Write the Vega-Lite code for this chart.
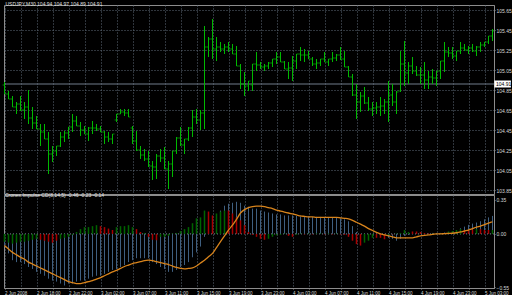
{
"$schema": "https://vega.github.io/schema/vega-lite/v6.json",
"background": "black",
"padding": {"left": 1, "top": 1, "right": 0, "bottom": 0},
"spacing": 1,
"bounds": "flush",
"config": {
 "view": {"stroke": "#8c8c8c", "strokeWidth": 1},
 "font": "Liberation Sans",
 "axis": {"labelColor": "#d8d8d8", "labelFont": "Liberation Sans", "labelFontSize": 5, "tickColor": "#8c8c8c", "domainColor": "#8c8c8c", "gridColor": "#5e6b78", "gridDash": [1, 2], "gridWidth": 1, "title": null, "tickSize": 1, "labelOverlap": false, "tickCount": 200}
},
"datasets": {"d": [
{"i":0,"o":104.90,"h":104.93,"l":104.81,"c":104.81,"b":-0.13,"m":-0.08,"k":"g","s":-0.12},
{"i":1,"o":104.81,"h":104.84,"l":104.76,"c":104.76,"b":-0.20,"m":-0.09,"k":"g","s":-0.155},
{"i":2,"o":104.76,"h":104.79,"l":104.68,"c":104.68,"b":-0.27,"m":-0.10,"k":"g","s":-0.19},
{"i":3,"o":104.68,"h":104.73,"l":104.61,"c":104.71,"b":-0.29,"m":-0.09,"k":"g","s":-0.215},
{"i":4,"o":104.71,"h":104.79,"l":104.64,"c":104.65,"b":-0.29,"m":-0.08,"k":"g","s":-0.24},
{"i":5,"o":104.65,"h":104.73,"l":104.56,"c":104.68,"b":-0.31,"m":-0.08,"k":"g","s":-0.26},
{"i":6,"o":104.68,"h":104.85,"l":104.51,"c":104.57,"b":-0.34,"m":-0.07,"k":"g","s":-0.29},
{"i":7,"o":104.57,"h":104.68,"l":104.46,"c":104.52,"b":-0.36,"m":-0.06,"k":"g","s":-0.31},
{"i":8,"o":104.52,"h":104.59,"l":104.46,"c":104.46,"b":-0.39,"m":-0.05,"k":"g","s":-0.33},
{"i":9,"o":104.46,"h":104.51,"l":104.29,"c":104.43,"b":-0.41,"m":-0.06,"k":"r","s":-0.35},
{"i":10,"o":104.43,"h":104.51,"l":104.36,"c":104.36,"b":-0.43,"m":-0.07,"k":"r","s":-0.37},
{"i":11,"o":104.36,"h":104.43,"l":104.01,"c":104.21,"b":-0.46,"m":-0.08,"k":"r","s":-0.39},
{"i":12,"o":104.21,"h":104.29,"l":104.13,"c":104.24,"b":-0.48,"m":-0.09,"k":"r","s":-0.41},
{"i":13,"o":104.24,"h":104.29,"l":104.19,"c":104.29,"b":-0.49,"m":-0.07,"k":"r","s":-0.43},
{"i":14,"o":104.29,"h":104.43,"l":104.28,"c":104.38,"b":-0.51,"m":-0.05,"k":"g","s":-0.45},
{"i":15,"o":104.38,"h":104.44,"l":104.33,"c":104.42,"b":-0.53,"m":-0.04,"k":"g","s":-0.47},
{"i":16,"o":104.42,"h":104.48,"l":104.36,"c":104.48,"b":-0.51,"m":-0.03,"k":"g","s":-0.49},
{"i":17,"o":104.48,"h":104.61,"l":104.43,"c":104.54,"b":-0.51,"m":-0.01,"k":"g","s":-0.50},
{"i":18,"o":104.54,"h":104.59,"l":104.49,"c":104.49,"b":-0.49,"m":0.02,"k":"g","s":-0.51},
{"i":19,"o":104.49,"h":104.53,"l":104.39,"c":104.45,"b":-0.48,"m":0.05,"k":"g","s":-0.51},
{"i":20,"o":104.45,"h":104.49,"l":104.41,"c":104.41,"b":-0.48,"m":0.07,"k":"g","s":-0.50},
{"i":21,"o":104.41,"h":104.48,"l":104.34,"c":104.47,"b":-0.46,"m":0.07,"k":"g","s":-0.49},
{"i":22,"o":104.47,"h":104.54,"l":104.41,"c":104.47,"b":-0.44,"m":0.08,"k":"g","s":-0.48},
{"i":23,"o":104.47,"h":104.51,"l":104.44,"c":104.46,"b":-0.43,"m":0.09,"k":"g","s":-0.465},
{"i":24,"o":104.46,"h":104.49,"l":104.43,"c":104.43,"b":-0.43,"m":0.08,"k":"r","s":-0.45},
{"i":25,"o":104.43,"h":104.44,"l":104.31,"c":104.38,"b":-0.41,"m":0.07,"k":"r","s":-0.43},
{"i":26,"o":104.38,"h":104.43,"l":104.33,"c":104.36,"b":-0.39,"m":0.055,"k":"r","s":-0.41},
{"i":27,"o":104.36,"h":104.41,"l":104.31,"c":104.41,"b":-0.37,"m":0.04,"k":"r","s":-0.39},
{"i":28,"o":104.55,"h":104.61,"l":104.53,"c":104.61,"b":-0.36,"m":0.07,"k":"g","s":-0.375},
{"i":29,"o":104.61,"h":104.66,"l":104.61,"c":104.63,"b":-0.34,"m":0.08,"k":"g","s":-0.355},
{"i":30,"o":104.63,"h":104.66,"l":104.59,"c":104.62,"b":-0.32,"m":0.08,"k":"g","s":-0.335},
{"i":31,"o":104.62,"h":104.66,"l":104.58,"c":104.58,"b":-0.29,"m":0.09,"k":"g","s":-0.32},
{"i":32,"o":104.47,"h":104.49,"l":104.31,"c":104.34,"b":-0.27,"m":0.07,"k":"g","s":-0.305},
{"i":33,"o":104.34,"h":104.44,"l":104.24,"c":104.25,"b":-0.25,"m":0.05,"k":"r","s":-0.295},
{"i":34,"o":104.25,"h":104.29,"l":104.16,"c":104.20,"b":-0.25,"m":0.02,"k":"r","s":-0.285},
{"i":35,"o":104.20,"h":104.26,"l":104.14,"c":104.16,"b":-0.25,"m":0.01,"k":"g","s":-0.275},
{"i":36,"o":104.16,"h":104.24,"l":104.08,"c":104.09,"b":-0.25,"m":-0.03,"k":"r","s":-0.27},
{"i":37,"o":104.09,"h":104.14,"l":103.95,"c":104.08,"b":-0.29,"m":-0.06,"k":"r","s":-0.275},
{"i":38,"o":104.08,"h":104.21,"l":103.96,"c":104.19,"b":-0.31,"m":-0.065,"k":"r","s":-0.285},
{"i":39,"o":104.19,"h":104.26,"l":104.13,"c":104.17,"b":-0.34,"m":-0.03,"k":"g","s":-0.295},
{"i":40,"o":104.17,"h":104.28,"l":104.06,"c":104.06,"b":-0.36,"m":-0.03,"k":"g","s":-0.305},
{"i":41,"o":104.06,"h":104.14,"l":103.86,"c":104.11,"b":-0.39,"m":-0.02,"k":"g","s":-0.315},
{"i":42,"o":104.11,"h":104.24,"l":103.98,"c":104.24,"b":-0.39,"m":0.005,"k":"g","s":-0.33},
{"i":43,"o":104.24,"h":104.38,"l":104.21,"c":104.37,"b":-0.37,"m":0.01,"k":"g","s":-0.345},
{"i":44,"o":104.37,"h":104.48,"l":104.29,"c":104.30,"b":-0.34,"m":0.03,"k":"g","s":-0.355},
{"i":45,"o":104.30,"h":104.36,"l":104.21,"c":104.36,"b":-0.32,"m":0.05,"k":"g","s":-0.36},
{"i":46,"o":104.36,"h":104.48,"l":104.34,"c":104.47,"b":-0.29,"m":0.07,"k":"g","s":-0.355},
{"i":47,"o":104.47,"h":104.65,"l":104.38,"c":104.58,"b":-0.24,"m":0.11,"k":"g","s":-0.35},
{"i":48,"o":104.58,"h":104.66,"l":104.51,"c":104.55,"b":-0.19,"m":0.16,"k":"g","s":-0.33},
{"i":49,"o":104.55,"h":104.65,"l":104.45,"c":104.62,"b":-0.13,"m":0.17,"k":"g","s":-0.30},
{"i":50,"o":104.62,"h":105.49,"l":104.46,"c":105.28,"b":-0.03,"m":0.24,"k":"g","s":-0.27},
{"i":51,"o":105.28,"h":105.38,"l":105.18,"c":105.36,"b":0.05,"m":0.23,"k":"r","s":-0.235},
{"i":52,"o":105.36,"h":105.56,"l":105.16,"c":105.26,"b":0.12,"m":0.19,"k":"r","s":-0.20},
{"i":53,"o":105.26,"h":105.38,"l":105.14,"c":105.28,"b":0.18,"m":0.21,"k":"g","s":-0.14},
{"i":54,"o":105.28,"h":105.33,"l":105.23,"c":105.26,"b":0.24,"m":0.23,"k":"g","s":-0.08},
{"i":55,"o":105.26,"h":105.31,"l":105.21,"c":105.28,"b":0.29,"m":0.24,"k":"g","s":-0.02},
{"i":56,"o":105.28,"h":105.33,"l":105.23,"c":105.26,"b":0.31,"m":0.24,"k":"r","s":0.04},
{"i":57,"o":105.26,"h":105.31,"l":105.21,"c":105.21,"b":0.32,"m":0.21,"k":"r","s":0.09},
{"i":58,"o":105.21,"h":105.29,"l":105.09,"c":105.09,"b":0.33,"m":0.17,"k":"r","s":0.15},
{"i":59,"o":105.09,"h":105.11,"l":104.86,"c":104.91,"b":0.32,"m":0.14,"k":"r","s":0.215},
{"i":60,"o":104.91,"h":105.03,"l":104.79,"c":104.89,"b":0.29,"m":0.09,"k":"r","s":0.25},
{"i":61,"o":104.89,"h":104.94,"l":104.84,"c":104.94,"b":0.28,"m":0.02,"k":"r","s":0.27},
{"i":62,"o":104.90,"h":105.11,"l":104.84,"c":105.11,"b":0.26,"m":-0.01,"k":"r","s":0.28},
{"i":63,"o":105.11,"h":105.23,"l":105.04,"c":105.10,"b":0.26,"m":-0.03,"k":"r","s":0.285},
{"i":64,"o":105.10,"h":105.13,"l":105.06,"c":105.08,"b":0.24,"m":-0.05,"k":"r","s":0.285},
{"i":65,"o":105.08,"h":105.11,"l":105.04,"c":105.09,"b":0.23,"m":-0.06,"k":"r","s":0.28},
{"i":66,"o":105.09,"h":105.13,"l":105.06,"c":105.12,"b":0.22,"m":-0.05,"k":"g","s":0.27},
{"i":67,"o":105.12,"h":105.16,"l":105.08,"c":105.16,"b":0.21,"m":-0.03,"k":"g","s":0.26},
{"i":68,"o":105.16,"h":105.23,"l":105.11,"c":105.18,"b":0.20,"m":-0.015,"k":"g","s":0.245},
{"i":69,"o":105.18,"h":105.23,"l":105.13,"c":105.13,"b":0.20,"m":-0.01,"k":"g","s":0.235},
{"i":70,"o":105.13,"h":105.14,"l":105.06,"c":105.06,"b":0.19,"m":0.005,"k":"g","s":0.225},
{"i":71,"o":105.06,"h":105.13,"l":104.96,"c":105.07,"b":0.19,"m":-0.02,"k":"r","s":0.215},
{"i":72,"o":105.07,"h":105.19,"l":104.94,"c":105.14,"b":0.19,"m":-0.03,"k":"r","s":0.205},
{"i":73,"o":105.14,"h":105.21,"l":105.06,"c":105.21,"b":0.185,"m":-0.01,"k":"g","s":0.195},
{"i":74,"o":105.21,"h":105.28,"l":105.14,"c":105.20,"b":0.18,"m":0.005,"k":"g","s":0.185},
{"i":75,"o":105.20,"h":105.26,"l":105.13,"c":105.20,"b":0.18,"m":-0.005,"k":"r","s":0.18},
{"i":76,"o":105.20,"h":105.24,"l":105.16,"c":105.16,"b":0.18,"m":0.005,"k":"g","s":0.175},
{"i":77,"o":105.16,"h":105.18,"l":105.09,"c":105.11,"b":0.175,"m":-0.005,"k":"r","s":0.175},
{"i":78,"o":105.11,"h":105.16,"l":105.06,"c":105.12,"b":0.175,"m":0.005,"k":"g","s":0.17},
{"i":79,"o":105.12,"h":105.16,"l":105.09,"c":105.16,"b":0.175,"m":0.005,"k":"g","s":0.17},
{"i":80,"o":105.16,"h":105.23,"l":105.13,"c":105.13,"b":0.175,"m":-0.005,"k":"r","s":0.17},
{"i":81,"o":105.13,"h":105.16,"l":105.09,"c":105.16,"b":0.17,"m":0.005,"k":"g","s":0.17},
{"i":82,"o":105.16,"h":105.23,"l":105.13,"c":105.17,"b":0.17,"m":-0.005,"k":"r","s":0.17},
{"i":83,"o":105.17,"h":105.21,"l":105.14,"c":105.20,"b":0.17,"m":0.005,"k":"g","s":0.17},
{"i":84,"o":105.20,"h":105.28,"l":105.15,"c":105.16,"b":0.16,"m":-0.005,"k":"r","s":0.165},
{"i":85,"o":105.16,"h":105.24,"l":105.08,"c":105.08,"b":0.15,"m":-0.01,"k":"r","s":0.16},
{"i":86,"o":105.08,"h":105.09,"l":104.98,"c":104.98,"b":0.13,"m":-0.03,"k":"r","s":0.155},
{"i":87,"o":104.98,"h":105.01,"l":104.79,"c":104.80,"b":0.08,"m":-0.07,"k":"r","s":0.14},
{"i":88,"o":104.80,"h":104.91,"l":104.56,"c":104.73,"b":0.02,"m":-0.105,"k":"r","s":0.12},
{"i":89,"o":104.73,"h":104.83,"l":104.63,"c":104.79,"b":0.0,"m":-0.12,"k":"r","s":0.10},
{"i":90,"o":104.79,"h":104.88,"l":104.71,"c":104.72,"b":-0.01,"m":-0.09,"k":"g","s":0.08},
{"i":91,"o":104.72,"h":104.78,"l":104.64,"c":104.66,"b":-0.01,"m":-0.07,"k":"g","s":0.055},
{"i":92,"o":104.66,"h":104.73,"l":104.59,"c":104.67,"b":-0.02,"m":-0.04,"k":"g","s":0.035},
{"i":93,"o":104.67,"h":104.73,"l":104.61,"c":104.68,"b":-0.02,"m":-0.04,"k":"r","s":0.015},
{"i":94,"o":104.68,"h":104.78,"l":104.59,"c":104.69,"b":-0.02,"m":-0.04,"k":"r","s":0.0},
{"i":95,"o":104.69,"h":104.76,"l":104.61,"c":104.73,"b":-0.03,"m":-0.055,"k":"r","s":-0.01},
{"i":96,"o":104.73,"h":104.94,"l":104.53,"c":104.80,"b":-0.04,"m":-0.01,"k":"g","s":-0.02},
{"i":97,"o":104.80,"h":104.91,"l":104.69,"c":104.73,"b":-0.05,"m":-0.005,"k":"r","s":-0.03},
{"i":98,"o":104.73,"h":104.84,"l":104.61,"c":104.83,"b":-0.07,"m":0.005,"k":"g","s":-0.04},
{"i":99,"o":104.84,"h":105.24,"l":104.83,"c":105.11,"b":-0.05,"m":0.01,"k":"g","s":-0.04},
{"i":100,"o":105.11,"h":105.34,"l":104.89,"c":105.02,"b":-0.02,"m":0.04,"k":"g","s":-0.04},
{"i":101,"o":105.02,"h":105.13,"l":104.91,"c":105.09,"b":-0.01,"m":0.02,"k":"g","s":-0.04},
{"i":102,"o":105.09,"h":105.18,"l":105.01,"c":105.04,"b":0.0,"m":0.025,"k":"r","s":-0.04},
{"i":103,"o":105.04,"h":105.09,"l":104.99,"c":105.00,"b":0.005,"m":0.025,"k":"r","s":-0.03},
{"i":104,"o":105.00,"h":105.08,"l":104.91,"c":105.00,"b":0.005,"m":0.02,"k":"r","s":-0.02},
{"i":105,"o":105.00,"h":105.13,"l":104.86,"c":104.95,"b":0.005,"m":0.01,"k":"r","s":-0.014},
{"i":106,"o":104.95,"h":105.04,"l":104.86,"c":104.98,"b":0.005,"m":0.005,"k":"r","s":-0.01},
{"i":107,"o":104.98,"h":105.06,"l":104.91,"c":104.97,"b":0.01,"m":0.003,"k":"g","s":-0.005},
{"i":108,"o":104.97,"h":105.04,"l":104.89,"c":105.04,"b":0.01,"m":0.003,"k":"g","s":0.0},
{"i":109,"o":105.04,"h":105.14,"l":104.96,"c":105.14,"b":0.01,"m":0.003,"k":"g","s":0.0},
{"i":110,"o":105.14,"h":105.33,"l":105.03,"c":105.23,"b":0.015,"m":0.005,"k":"g","s":0.003},
{"i":111,"o":105.23,"h":105.28,"l":105.18,"c":105.22,"b":0.02,"m":0.025,"k":"g","s":0.005},
{"i":112,"o":105.22,"h":105.28,"l":105.16,"c":105.19,"b":0.024,"m":0.03,"k":"g","s":0.007},
{"i":113,"o":105.19,"h":105.24,"l":105.14,"c":105.24,"b":0.04,"m":0.04,"k":"g","s":0.012},
{"i":114,"o":105.24,"h":105.33,"l":105.21,"c":105.27,"b":0.058,"m":0.05,"k":"g","s":0.02},
{"i":115,"o":105.27,"h":105.31,"l":105.24,"c":105.25,"b":0.075,"m":0.04,"k":"r","s":0.03},
{"i":116,"o":105.25,"h":105.29,"l":105.21,"c":105.27,"b":0.093,"m":0.04,"k":"r","s":0.04},
{"i":117,"o":105.27,"h":105.31,"l":105.23,"c":105.24,"b":0.106,"m":0.045,"k":"r","s":0.055},
{"i":118,"o":105.24,"h":105.29,"l":105.19,"c":105.28,"b":0.117,"m":0.05,"k":"g","s":0.07},
{"i":119,"o":105.28,"h":105.33,"l":105.23,"c":105.30,"b":0.13,"m":0.05,"k":"r","s":0.08},
{"i":120,"o":105.30,"h":105.33,"l":105.28,"c":105.33,"b":0.15,"m":0.04,"k":"r","s":0.095},
{"i":121,"o":105.33,"h":105.39,"l":105.31,"c":105.39,"b":0.17,"m":0.04,"k":"r","s":0.11},
{"i":122,"o":105.39,"h":105.46,"l":105.34,"c":105.44,"b":0.185,"m":0.04,"k":"g","s":0.125}
]},
"vconcat": [
{
 "width": 490,
 "height": 189,
 "data": {"name": "d"},
 "title": {"text": "USDJPY,M30 104.94 104.97 104.89 104.91", "anchor": "start", "orient": "top", "offset": -7, "dx": 3, "fontSize": 5, "fontWeight": "normal", "color": "#e0e0e0", "font": "Liberation Sans", "baseline": "bottom"},
 "layer": [
  {
   "data": {"values": [{"t": "104.91"}]},
   "mark": {"type": "rule", "color": "#707d8b", "strokeWidth": 1},
   "encoding": {"y": {"datum": 104.91, "type": "quantitative"}}
  },
  {
   "mark": {"type": "rule", "color": "#00b800", "strokeWidth": 1},
   "encoding": {
    "x": {"field": "i", "type": "quantitative", "scale": {"domain": [-0.125, 122.375], "nice": false, "zero": false},
          "axis": {"values": [0,4,8,12,16,20,24,28,32,36,40,44,48,52,56,60,64,68,72,76,80,84,88,92,96,100,104,108,112,116,120], "tickCount": 200, "labels": false, "ticks": false, "domain": false, "grid": true}},
    "y": {"field": "l", "type": "quantitative", "scale": {"domain": [103.81, 105.70], "nice": false, "zero": false},
          "axis": {"orient": "right", "values": [103.85,104.05,104.25,104.45,104.65,104.85,105.05,105.25,105.45,105.65], "tickCount": 200, "format": ".2f", "grid": true, "labelPadding": 1, "labelOverlap": false, "labelBound": false, "labelFlush": false}},
    "y2": {"field": "h"}
   }
  },
  {
   "mark": {"type": "tick", "orient": "horizontal", "size": 2, "thickness": 1, "xOffset": -1, "color": "#00b800"},
   "encoding": {"x": {"field": "i", "type": "quantitative"}, "y": {"field": "o", "type": "quantitative"}}
  },
  {
   "mark": {"type": "tick", "orient": "horizontal", "size": 2, "thickness": 1, "xOffset": 1, "color": "#00b800"},
   "encoding": {"x": {"field": "i", "type": "quantitative"}, "y": {"field": "c", "type": "quantitative"}}
  },
  {
   "data": {"values": [{"t": "104.91"}]},
   "mark": {"type": "rect", "color": "white"},
   "encoding": {"x": {"datum": 122.45, "type": "quantitative"}, "x2": {"datum": 126.6}, "y": {"datum": 104.945, "type": "quantitative"}, "y2": {"datum": 104.875}}
  },
  {
   "data": {"values": [{"t": "104.91"}]},
   "mark": {"type": "text", "align": "left", "baseline": "middle", "color": "black", "fontSize": 5, "font": "Liberation Sans", "dx": 1},
   "encoding": {"x": {"datum": 122.6, "type": "quantitative"}, "y": {"datum": 104.91, "type": "quantitative"}, "text": {"field": "t"}}
  }
 ]
},
{
 "width": 490,
 "height": 93,
 "data": {"name": "d"},
 "title": {"text": "Cronex Impulse CD(8,14,5) -0.46 -0.23 -0.14", "anchor": "start", "orient": "top", "offset": -8, "dx": 3, "fontSize": 5, "fontWeight": "normal", "color": "#e0e0e0", "font": "Liberation Sans", "baseline": "bottom"},
 "layer": [
  {
   "data": {"values": [{}]},
   "mark": {"type": "rule", "color": "#7a8a99", "strokeDash": [1, 2]},
   "encoding": {"y": {"datum": 0, "type": "quantitative"}}
  },
  {
   "mark": {"type": "rule", "color": "#3f5f80", "strokeWidth": 1},
   "encoding": {
    "x": {"field": "i", "type": "quantitative", "scale": {"domain": [-0.125, 122.375], "nice": false, "zero": false},
          "axis": {"values": [0,4,8,12,16,20,24,28,32,36,40,44,48,52,56,60,64,68,72,76,80,84,88,92,96,100,104,108,112,116,120], "tickCount": 200, "grid": true, "labelAlign": "left", "labelFontSize": 4.5, "labelPadding": 1, "labelFlush": false, "labelBound": false, "labelOverlap": false,
                   "labelExpr": "datum.value % 8 == 0 ? ['2 Jun 2008','2 Jun 18:00','2 Jun 22:00','3 Jun 02:00','3 Jun 07:00','3 Jun 11:00','3 Jun 15:00','3 Jun 19:00','3 Jun 23:00','4 Jun 03:00','4 Jun 07:00','4 Jun 11:00','4 Jun 15:00','4 Jun 19:00','4 Jun 23:00','5 Jun 03:00'][datum.value / 8] : ''"}},
    "y": {"field": "b", "type": "quantitative", "scale": {"domain": [-0.556, 0.40], "nice": false, "zero": false},
          "axis": {"orient": "right", "values": [-0.55, 0, 0.35], "tickCount": 200, "format": ".2f", "grid": false, "labelPadding": 1, "labelOverlap": false, "labelFlush": false}},
    "y2": {"datum": 0}
   }
  },
  {
   "mark": {"type": "rule", "strokeWidth": 1.5},
   "encoding": {
    "x": {"field": "i", "type": "quantitative"},
    "y": {"field": "m", "type": "quantitative"},
    "y2": {"datum": 0},
    "color": {"field": "k", "type": "nominal", "scale": {"domain": ["g", "r"], "range": ["#006400", "#a80000"]}, "legend": null}
   }
  },
  {
   "mark": {"type": "line", "color": "#d8841c", "strokeWidth": 1.3, "interpolate": "monotone"},
   "encoding": {"x": {"field": "i", "type": "quantitative"}, "y": {"field": "s", "type": "quantitative"}}
  }
 ]
}
]
}
